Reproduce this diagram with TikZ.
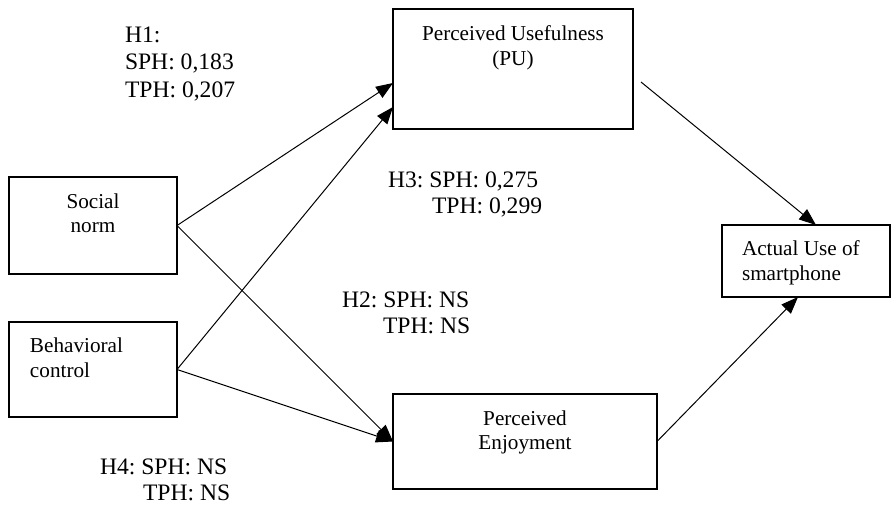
\documentclass[tikz,border=0pt]{standalone}
\usepackage{fontspec}
\setmainfont{Liberation Serif}
\usetikzlibrary{arrows.meta}
\begin{document}
\frenchspacing
\begin{tikzpicture}[x=1pt,y=-1pt,
  box/.style={draw,line width=1.2pt,rectangle,inner sep=0pt,outer sep=0pt},
  txt/.style={inner sep=0pt,outer sep=0pt,font=\fontsize{21.2}{25}\selectfont},
  coef/.style={inner sep=0pt,outer sep=0pt,anchor=base west,font=\fontsize{23.6}{27.5}\selectfont},
  link/.style={line width=1pt,-{Triangle[length=17pt,width=13pt]}}]
\useasboundingbox (0,0) rectangle (892,504);

% construct boxes
\node[box,minimum width=240pt,minimum height=120pt] (pu) at (513,69) {};
\node[box,minimum width=168pt,minimum height=97pt] (sn) at (93,225.5) {};
\node[box,minimum width=168pt,minimum height=95pt] (bc) at (93,369.5) {};
\node[box,minimum width=264pt,minimum height=95pt] (pe) at (525,441.5) {};
\node[box,minimum width=168pt,minimum height=72pt] (au) at (806,261) {};

% box texts
\node[txt,anchor=base] (put1) at (513,40) {Perceived Usefulness};
\node[txt,anchor=base] (put2) at (513,65) {(PU)};
\node[txt,anchor=base] (snt1) at (93,208) {Social};
\node[txt,anchor=base] (snt2) at (93,232) {norm};
\node[txt,anchor=base west] (bct1) at (30,352) {Behavioral};
\node[txt,anchor=base west] (bct2) at (30,377) {control};
\node[txt,anchor=base] (pet1) at (525,425) {Perceived};
\node[txt,anchor=base] (pet2) at (525,449) {Enjoyment};
\node[txt,anchor=base west] (aut1) at (742,255) {Actual Use of};
\node[txt,anchor=base west] (aut2) at (742,280) {smartphone};

% path coefficients
\node[coef] (h1a) at (125,42) {H1:};
\node[coef] (h1b) at (125,69) {SPH: 0,183};
\node[coef] (h1c) at (125,97) {TPH: 0,207};
\node[coef] (h3a) at (388,187) {H3: SPH: 0,275};
\node[coef] (h3b) at (432,213) {TPH: 0,299};
\node[coef] (h2a) at (342,307) {H2: SPH: NS};
\node[coef] (h2b) at (383,333) {TPH: NS};
\node[coef] (h4a) at (100,474) {H4: SPH: NS};
\node[coef] (h4b) at (143,500) {TPH: NS};

% connectors
\coordinate (puout) at ([shift={(8pt,-13pt)}]pu.east);
\draw[link] (sn.east) -- ([yshift=-14pt]pu.west);
\draw[link] (bc.east) -- ([yshift=-38pt]pu.west);
\draw[link] (sn.east) -- (pe.west);
\draw[link] (bc.east) -- (pe.west);
\draw[link] (puout) -- ([xshift=10pt]au.north);
\draw[link] (pe.east) -- ([xshift=-8pt]au.south);
\end{tikzpicture}
\end{document}
